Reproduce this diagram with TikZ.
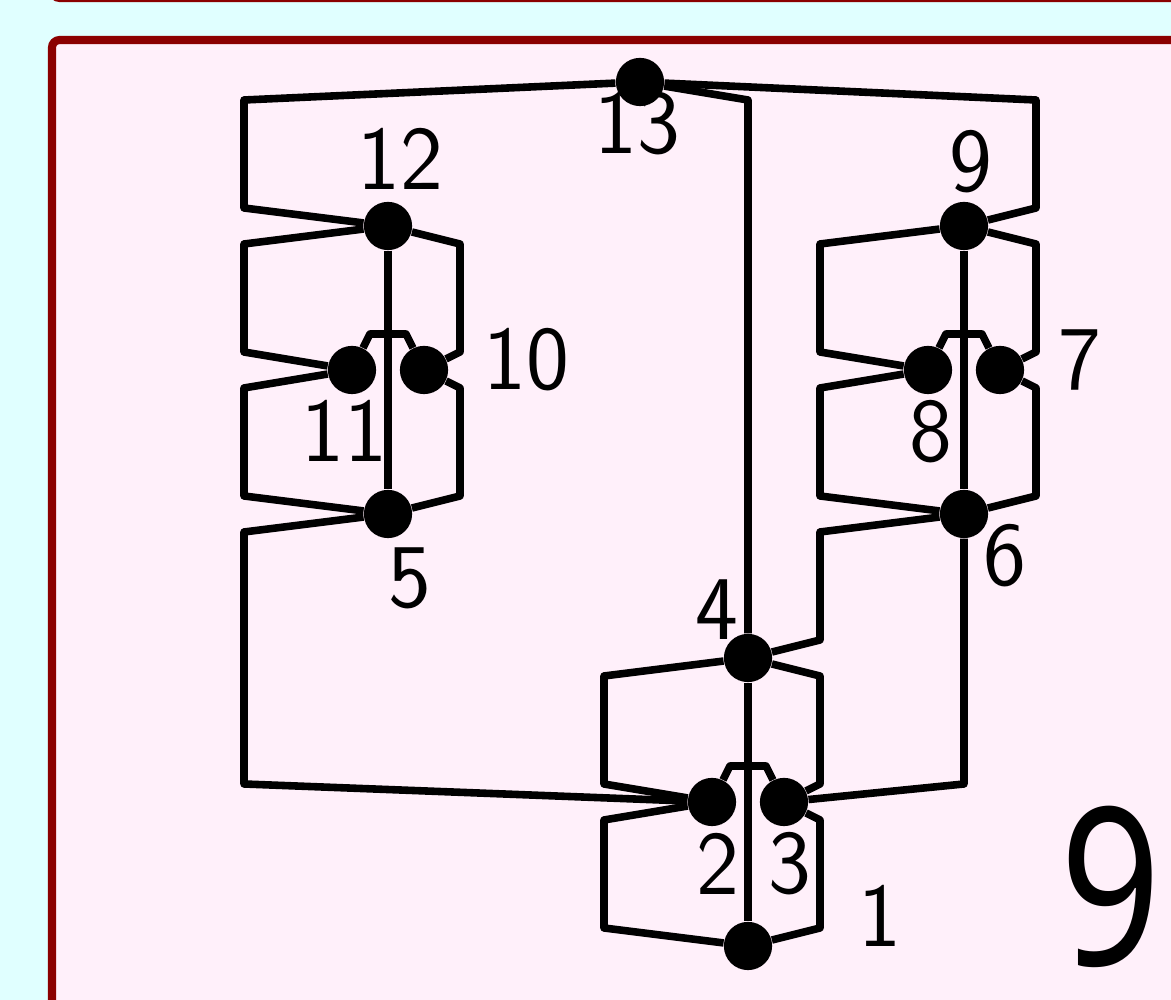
\documentclass[tikz,border=0pt]{standalone}
\usepackage{fontspec}
\newfontfamily\bignumfont{Noto Sans}
\usetikzlibrary{calc}
\definecolor{framered}{HTML}{8B0000}
\definecolor{pagecyan}{HTML}{E0FFFF}
\definecolor{boxpink}{HTML}{FFF0FA}
\tikzstyle{vertex}=[circle,fill=black,inner sep=0pt,minimum size=0.67cm]
\tikzstyle{wire}=[line width=3pt,line join=round]
\tikzstyle{lab}=[inner sep=0pt,font=\sffamily\fontsize{36}{40}\selectfont]
\tikzstyle{frame}=[draw=framered,line width=3.2pt,fill=boxpink,rounded corners=3pt]

\begin{document}
\begin{tikzpicture}
  \def\L{-10.389} % left edge
  \def\R{5.875}   % right edge
  \def\B{-0.75}   % bottom edge
  \def\T{13.139}  % top edge

  % page and the two boxes
  \useasboundingbox[fill=pagecyan] (\L,\B) rectangle (\R,\T);
  \clip (\L,\B) rectangle (\R,\T);
  \draw[frame] (-9.667,13.167) rectangle (7,16);
  \draw[frame] (-9.667,12.583) rectangle (7,-2);

  % vertices
  \node[vertex] (n1) at (0,0) {};
  \node[vertex] (n2) at (-0.5,2) {};
  \node[vertex] (n3) at (0.5,2) {};
  \node[vertex] (n4) at (0,4) {};
  \node[vertex] (n5) at (-5,6) {};
  \node[vertex] (n6) at (3,6) {};
  \node[vertex] (n7) at (3.5,8) {};
  \node[vertex] (n8) at (2.5,8) {};
  \node[vertex] (n9) at (3,10) {};
  \node[vertex] (n10) at (-4.5,8) {};
  \node[vertex] (n11) at (-5.5,8) {};
  \node[vertex] (n12) at (-5,10) {};
  \node[vertex] (n13) at (-1.5,12) {};

  % the three equal blocks: top, left/right pair, bottom
  \foreach \tp/\lp/\rp/\bt/\cx/\cy in {n12/n11/n10/n5/-5/6,n9/n8/n7/n6/3/6,n4/n2/n3/n1/0/0} {
    \draw[wire] (\tp) -- ({\cx-2},{\cy+3.75}) -- ({\cx-2},{\cy+2.25}) -- (\lp);
    \draw[wire] (\tp) -- ({\cx+1},{\cy+3.75}) -- ({\cx+1},{\cy+2.25}) -- (\rp);
    \draw[wire] (\lp) -- ({\cx-2},{\cy+1.75}) -- ({\cx-2},{\cy+0.25}) -- (\bt);
    \draw[wire] (\rp) -- ({\cx+1},{\cy+1.75}) -- ({\cx+1},{\cy+0.25}) -- (\bt);
    \draw[wire] (\tp) -- (\bt);
    % bridge over the middle line
    \draw[wire] (\lp) -- ({\cx-0.25},{\cy+2.5}) -- ({\cx+0.25},{\cy+2.5}) -- (\rp);
  }

  % links between the blocks
  \draw[wire] (n13) -- (-7,11.75) -- (-7,10.25) -- (n12);
  \draw[wire] (n13) -- (4,11.75) -- (4,10.25) -- (n9);
  \draw[wire] (n13) -- (0,11.75) -- (n4);
  \draw[wire] (n5) -- (-7,5.75) -- (-7,2.25) -- (n2);
  \draw[wire] (n6) -- (1,5.75) -- (1,4.25) -- (n4);
  \draw[wire] (n6) -- (3,2.25) -- (n3);

  % labels
  \node[lab] (l1) at ($(n1)+(1.83,0.42)$) {1};
  \node[lab] (l2) at ($(n2)+(0.08,-0.86)$) {2};
  \node[lab] (l3) at ($(n3)+(0.08,-0.86)$) {3};
  \node[lab] (l4) at ($(n4)+(-0.43,0.67)$) {4};
  \node[lab] (l5) at ($(n5)+(0.31,-0.90)$) {5};
  \node[lab] (l6) at ($(n6)+(0.57,-0.58)$) {6};
  \node[lab] (l7) at ($(n7)+(1.11,0.14)$) {7};
  \node[lab] (l8) at ($(n8)+(0.04,-0.85)$) {8};
  \node[lab] (l9) at ($(n9)+(0.10,0.90)$) {9};
  \node[lab] (l10) at ($(n10)+(1.42,0.14)$) {10};
  \node[lab] (l11) at ($(n11)+(-0.11,-0.85)$) {11};
  \node[lab] (l12) at ($(n12)+(0.17,0.93)$) {12};
  \node[lab] (l13) at ($(n13)+(-0.04,-0.58)$) {13};

  % big number in the corner
  \node[inner sep=0pt,xscale=0.8,font=\bignumfont\fontsize{87}{90}\selectfont] (num) at (5.04,0.82) {9};
\end{tikzpicture}
\end{document}
